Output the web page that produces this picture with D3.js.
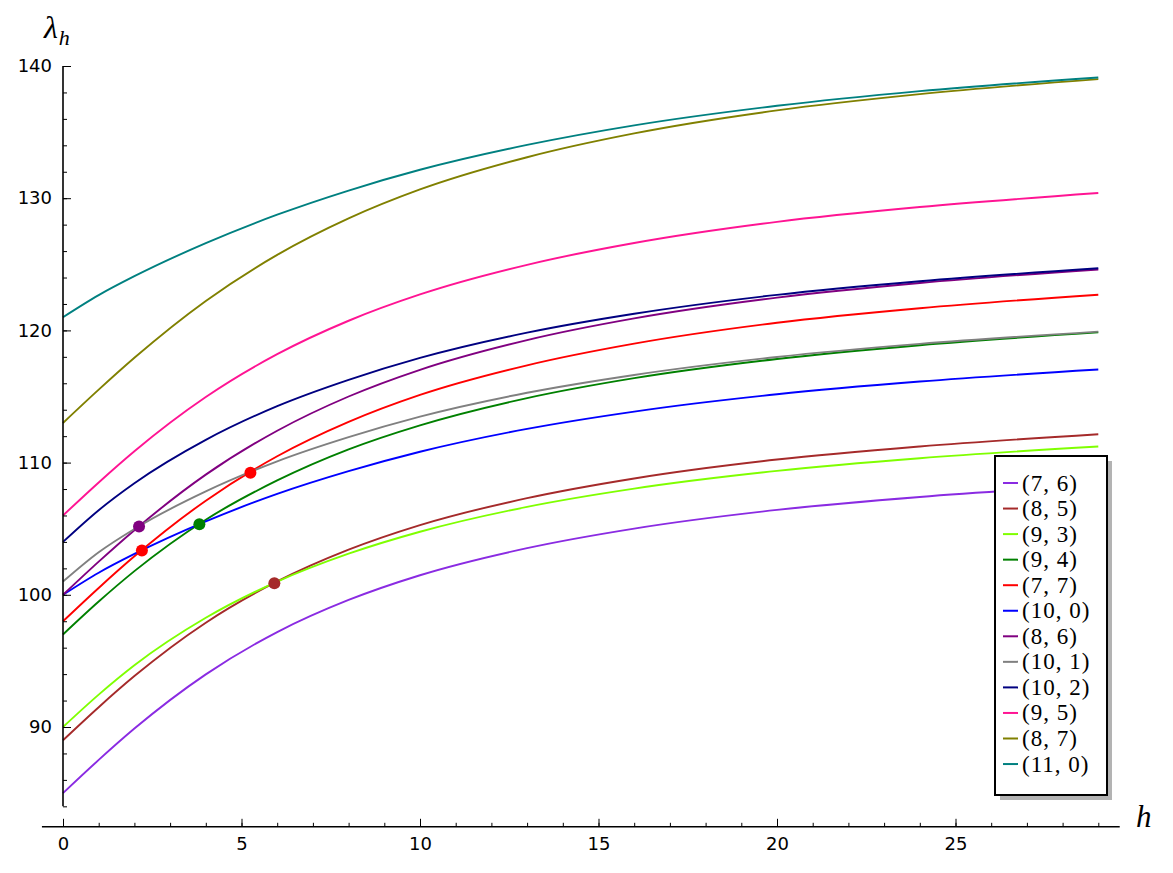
<!DOCTYPE html>
<html>
<head>
<meta charset="utf-8">
<script src="https://cdn.jsdelivr.net/npm/d3@7/dist/d3.min.js"></script>
<style>
  body { margin: 0; background: #fff; }
  .tick text { font-family: "DejaVu Sans", sans-serif; font-size: 18px; }
</style>
</head>
<body>
<div id="chart"></div>
<script>
var hs = [0, 1, 2, 4, 6, 8, 10, 13, 16, 20, 24, 29];

var labels = ['(7, 6)', '(8, 5)', '(9, 3)', '(9, 4)', '(7, 7)', '(10, 0)',
              '(8, 6)', '(10, 1)', '(10, 2)', '(9, 5)', '(8, 7)', '(11, 0)'];
var colors = ['#8a2be2', '#a52a2a', '#7fff00', '#008000', '#ff0000', '#0000ff',
              '#800080', '#808080', '#000080', '#ff1493', '#808000', '#008080'];

var s76  = [85, 87.51, 89.88, 93.98, 97.18, 99.61, 101.48, 103.53, 105.01, 106.42, 107.40, 108.30];
var s85  = [89, 91.50, 93.85, 97.89, 101.01, 103.41, 105.27, 107.31, 108.80, 110.23, 111.22, 112.15];
var s93  = [90, 92.45, 94.67, 98.26, 101.00, 103.11, 104.77, 106.65, 108.03, 109.37, 110.33, 111.22];
var s94  = [97, 99.49, 101.79, 105.68, 108.65, 111.00, 112.82, 114.88, 116.39, 117.84, 118.88, 119.85];
var s77  = [98, 100.52, 102.91, 107.12, 110.48, 113.08, 115.12, 117.36, 119.00, 120.58, 121.68, 122.70];
var s100 = [100, 101.67, 103.09, 105.55, 107.63, 109.35, 110.82, 112.55, 113.86, 115.17, 116.13, 117.04];
var s86  = [100, 102.51, 104.89, 109.09, 112.41, 115.00, 117.02, 119.27, 120.91, 122.48, 123.59, 124.61];
var s101 = [101, 103.22, 104.98, 107.82, 110.10, 111.93, 113.48, 115.28, 116.63, 117.99, 118.98, 119.91];
var s102 = [104, 106.40, 108.44, 111.72, 114.27, 116.26, 117.92, 119.83, 121.26, 122.69, 123.72, 124.70];
var s95  = [106, 108.50, 110.86, 114.96, 118.20, 120.73, 122.72, 124.96, 126.61, 128.21, 129.33, 130.39];
var s87  = [113, 115.52, 117.93, 122.23, 125.71, 128.47, 130.66, 133.10, 134.90, 136.64, 137.87, 139.01];
var s110 = [121, 122.67, 124.10, 126.60, 128.75, 130.58, 132.15, 134.03, 135.51, 136.99, 138.10, 139.13];

var series = [s76, s85, s93, s94, s77, s100, s86, s101, s102, s95, s87, s110];

// crossing points marked with dots
var dotH = [2.13, 2.21, 3.82, 5.25, 5.92];
var dotL = [105.17, 103.35, 105.33, 109.23, 100.88];
var dotC = ['#800080', '#ff0000', '#008000', '#ff0000', '#a52a2a'];

var W = 1173, H = 873;
var svg = d3.select('#chart').append('svg')
  .attr('width', W)
  .attr('height', H);

var x = d3.scaleLinear().domain([0, 29]).range([63, 1098.3]);
var y = d3.scaleLinear().domain([90, 140]).range([727, 66]);

var xAxisY = y(82.45);

// curves
var line = d3.line()
  .x(function(d) { return x(d[0]); })
  .y(function(d) { return y(d[1]); })
  .curve(d3.curveMonotoneX);

svg.append('g')
  .selectAll('path')
  .data(series)
  .enter()
  .append('path')
  .attr('d', function(s) { return line(hs.map(function(h, i) { return [h, s[i]]; })); })
  .attr('fill', 'none')
  .attr('stroke', function(s, i) { return colors[i]; })
  .attr('stroke-width', 1.9);

svg.append('g')
  .selectAll('circle')
  .data(dotH)
  .enter()
  .append('circle')
  .attr('cx', function(d) { return x(d); })
  .attr('cy', function(d, i) { return y(dotL[i]); })
  .attr('r', 6)
  .attr('fill', function(d, i) { return dotC[i]; });

// y axis
var yAxis = svg.append('g').attr('transform', 'translate(' + x(0) + ',0)');
yAxis.call(d3.axisLeft(y).tickValues(d3.range(90, 141, 10))
  .tickSizeInner(-8).tickSizeOuter(0).tickPadding(11));
yAxis.append('g').call(d3.axisLeft(y).tickValues(d3.range(84, 141, 2))
  .tickSizeInner(-4).tickSizeOuter(0).tickFormat(''));
yAxis.selectAll('.domain').remove();
yAxis.append('line')
  .attr('y1', y(84)).attr('y2', y(140))
  .attr('stroke', '#000').attr('stroke-width', 1.6);

// x axis
var xAxis = svg.append('g').attr('transform', 'translate(0,' + xAxisY + ')');
xAxis.call(d3.axisBottom(x).tickValues(d3.range(0, 26, 5))
  .tickSizeInner(-8).tickSizeOuter(0).tickPadding(10));
xAxis.append('g').call(d3.axisBottom(x).tickValues(d3.range(0, 30, 1))
  .tickSizeInner(-4).tickSizeOuter(0).tickFormat(''));
xAxis.selectAll('.domain').remove();
xAxis.append('line')
  .attr('x1', x(-0.59)).attr('x2', x(29.6))
  .attr('stroke', '#000').attr('stroke-width', 1.6);

svg.selectAll('.tick line').attr('stroke', '#000');
svg.selectAll('.tick text').attr('fill', '#000');

// axis labels
var lam = svg.append('text')
  .attr('x', 44).attr('y', 38)
  .attr('font-family', '"Liberation Serif", serif')
  .attr('font-style', 'italic')
  .attr('font-size', 32);
lam.append('tspan').text('λ');
lam.append('tspan').attr('font-size', 22).attr('dy', 7).attr('dx', 1).text('h');

svg.append('text')
  .attr('x', 1136).attr('y', 827)
  .attr('font-family', '"Liberation Serif", serif')
  .attr('font-style', 'italic')
  .attr('font-size', 31)
  .text('h');

// legend
var lx = 995, ly = 456, lw = 112, lh = 339;
svg.append('rect')
  .attr('x', lx + 5).attr('y', ly + 5)
  .attr('width', lw).attr('height', lh)
  .attr('fill', '#b3b3b3');
svg.append('rect')
  .attr('x', lx).attr('y', ly)
  .attr('width', lw).attr('height', lh)
  .attr('fill', '#fff')
  .attr('stroke', '#000')
  .attr('stroke-width', 2);

var legend = svg.append('g')
  .selectAll('g')
  .data(labels)
  .enter()
  .append('g')
  .attr('transform', function(d, i) { return 'translate(' + lx + ',' + (ly + 27 + i * 25.55) + ')'; });
legend.append('line')
  .attr('x1', 8).attr('x2', 23)
  .attr('stroke', function(d, i) { return colors[i]; })
  .attr('stroke-width', 2);
legend.append('text')
  .attr('x', 27).attr('y', 7.5)
  .attr('font-family', '"Liberation Serif", serif')
  .attr('font-size', 23)
  .attr('letter-spacing', 1)
  .text(function(d) { return d; });
</script>
</body>
</html>
